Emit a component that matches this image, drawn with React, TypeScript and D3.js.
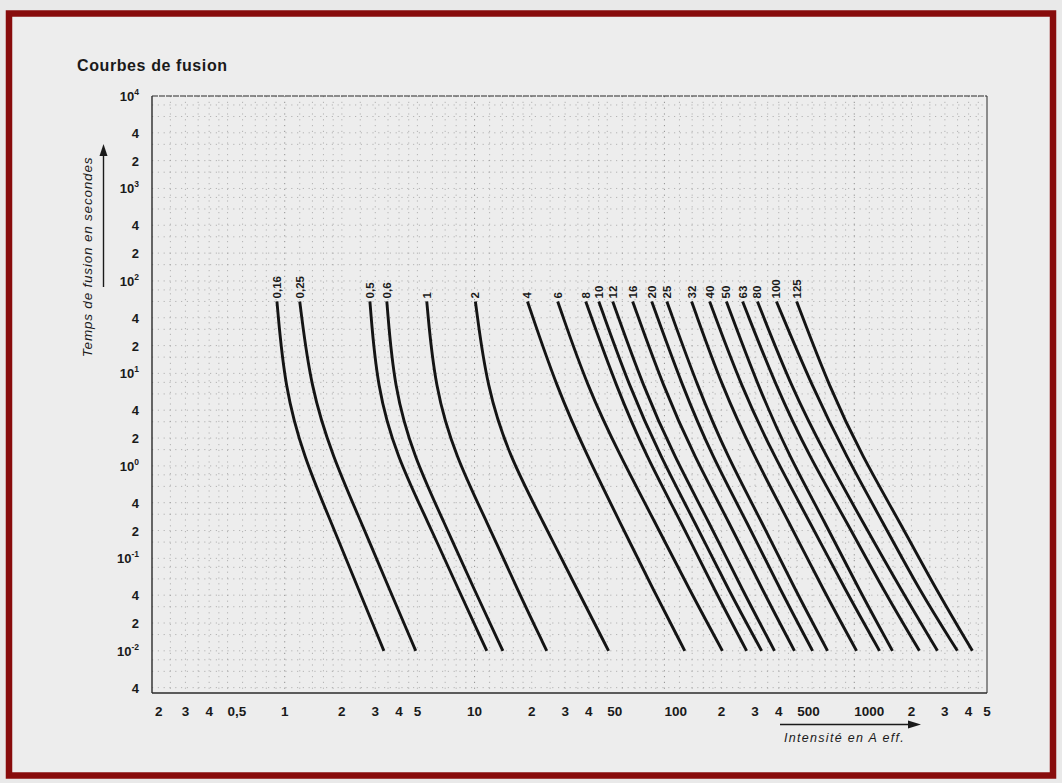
import React, { useEffect, useRef } from 'react';
import * as d3 from 'd3';

const width = 1062;
const height = 783;
const plot = { left: 152, right: 987, top: 96, bottom: 693 };

// fuse ratings, printed above each curve
const ratings = ['0,16', '0,25', '0,5', '0,6', '1', '2', '4', '6', '8', '10', '12', '16', '20', '25', '32', '40', '50', '63', '80', '100', '125'];

const times = [60, 7, 1.25, 0.25, 0.045, 0.01];

// melting current (A eff.) of each fuse at the times above
const i0_16 = [0.91, 1.0, 1.26, 1.75, 2.46, 3.33];
const i0_25 = [1.2, 1.37, 1.79, 2.52, 3.58, 4.9];
const i0_5 = [2.81, 3.06, 3.9, 5.67, 8.26, 11.6];
const i0_6 = [3.45, 3.76, 4.79, 6.88, 10.0, 14.1];
const i1 = [5.6, 6.17, 7.96, 11.6, 16.9, 24.0];
const i2 = [10.1, 11.6, 15.3, 22.9, 34.9, 50.8];
const i4 = [19.0, 27.1, 39.4, 58.1, 87.7, 128];
const i6 = [27.4, 39.4, 58.8, 88.8, 136, 202];
const i8 = [38.5, 56.0, 80.5, 122, 184, 271];
const i10 = [45.1, 65.6, 95.5, 144, 218, 325];
const i12 = [53.4, 77.6, 113, 171, 258, 380];
const i16 = [68.0, 99.0, 144, 218, 329, 484];
const i20 = [85.7, 125, 179, 271, 409, 603];
const i25 = [103, 150, 215, 325, 490, 723];
const i32 = [139, 202, 298, 451, 689, 1028];
const i40 = [173, 255, 380, 581, 899, 1358];
const i50 = [212, 313, 456, 697, 1064, 1589];
const i63 = [258, 389, 581, 910, 1426, 2203];
const i80 = [309, 467, 714, 1104, 1771, 2742];
const i100 = [389, 603, 910, 1406, 2203, 3491];
const i125 = [497, 740, 1104, 1730, 2710, 4188];

const currents = [i0_16, i0_25, i0_5, i0_6, i1, i2, i4, i6, i8, i10, i12, i16, i20, i25, i32, i40, i50, i63, i80, i100, i125];

const xTicks = [0.2, 0.3, 0.4, 0.5, 1, 2, 3, 4, 5, 10, 20, 30, 40, 50, 100, 200, 300, 400, 500, 1000, 2000, 3000, 4000, 5000];
const xTickLabels = ['2', '3', '4', '0,5', '1', '2', '3', '4', '5', '10', '2', '3', '4', '50', '100', '2', '3', '4', '500', '1000', '2', '3', '4', '5'];

const yTicks = [1e4, 4000, 2000, 1e3, 400, 200, 100, 40, 20, 10, 4, 2, 1, 0.4, 0.2, 0.1, 0.04, 0.02, 0.01, 0.004];
const yTickLabels = ['10^4', '4', '2', '10^3', '4', '2', '10^2', '4', '2', '10^1', '4', '2', '10^0', '4', '2', '10^-1', '4', '2', '10^-2', '4'];

// subdivisions of one decade on the log paper
const xGridSteps = [1, 1.2, 1.4, 1.6, 1.8, 2, 2.5, 3, 3.5, 4, 4.5, 5, 6, 7, 8, 9];
const yGridSteps = [1, 1.5, 2, 3, 4, 6, 8];

const font = '"Liberation Sans", Arial, Helvetica, sans-serif';

const App = () => {
    const ref = useRef<SVGSVGElement>(null);

    useEffect(() => {
        const svg = d3.select(ref.current);
        svg.selectAll('*').remove();

        const x = d3.scaleLog().domain([0.2, 5000]).range([plot.left, plot.right]);
        const y = d3.scaleLog().domain([0.0035, 1e4]).range([plot.bottom, plot.top]);

        svg.append('rect').attr('width', width).attr('height', height).attr('fill', '#e9e9e9');
        svg.append('rect')
            .attr('x', 9).attr('y', 13.5)
            .attr('width', 1044).attr('height', 762)
            .attr('fill', '#ededed')
            .attr('stroke', '#880c0c')
            .attr('stroke-width', 6.5);

        svg.append('text')
            .attr('x', 77).attr('y', 71)
            .attr('font-family', font).attr('font-weight', 'bold')
            .attr('font-size', 16).attr('letter-spacing', 0.6)
            .attr('fill', '#1a1a1a')
            .text('Courbes de fusion');

        // log paper grid
        const xGrid: number[] = [];
        for (let d = -1; d <= 3; d++) {
            xGridSteps.forEach(s => {
                const v = s * Math.pow(10, d);
                if (v > 0.2 && v < 5000) xGrid.push(v);
            });
        }
        const yGrid: number[] = [];
        for (let d = -3; d <= 3; d++) {
            yGridSteps.forEach(s => {
                const v = s * Math.pow(10, d);
                if (v > 0.0035 && v < 1e4) yGrid.push(v);
            });
        }
        const grid = svg.append('g')
            .attr('stroke', '#6e6e6e')
            .attr('stroke-width', 0.9)
            .attr('stroke-dasharray', '1.2 4.6');
        grid.selectAll('line.vx')
            .data(xGrid)
            .enter()
            .append('line')
            .attr('class', 'vx')
            .attr('x1', d => x(d)).attr('x2', d => x(d))
            .attr('y1', plot.top).attr('y2', plot.bottom)
            .attr('stroke-opacity', d => Number.isInteger(Math.log10(d)) ? 0.8 : 0.5);
        grid.selectAll('line.hy')
            .data(yGrid)
            .enter()
            .append('line')
            .attr('class', 'hy')
            .attr('x1', plot.left).attr('x2', plot.right)
            .attr('y1', d => y(d)).attr('y2', d => y(d))
            .attr('stroke-opacity', 0.5);

        // frame of the plot
        const frame = svg.append('g').attr('stroke', '#2a2a2a').attr('fill', 'none');
        frame.append('line').attr('x1', plot.left).attr('x2', plot.left).attr('y1', plot.top).attr('y2', plot.bottom).attr('stroke-width', 1.4);
        frame.append('line').attr('x1', plot.left).attr('x2', plot.right).attr('y1', plot.bottom).attr('y2', plot.bottom).attr('stroke-width', 1.4);
        frame.append('line').attr('x1', plot.right).attr('x2', plot.right).attr('y1', plot.top).attr('y2', plot.bottom).attr('stroke-width', 1);
        frame.append('line').attr('x1', plot.left).attr('x2', plot.right).attr('y1', plot.top).attr('y2', plot.top)
            .attr('stroke-width', 1.2).attr('stroke-dasharray', '6 1');

        // y tick labels
        const yLab = svg.append('g')
            .attr('font-family', font).attr('font-weight', 'bold')
            .attr('font-size', 13).attr('fill', '#1a1a1a')
            .attr('text-anchor', 'end');
        yTicks.forEach((v, i) => {
            const lab = yTickLabels[i];
            const t = yLab.append('text').attr('x', 139).attr('y', y(v) + 5);
            if (lab.startsWith('10^')) {
                t.append('tspan').text('10');
                t.append('tspan').attr('dy', -6).attr('font-size', 8.5).text(lab.slice(3));
            } else {
                t.text(lab);
            }
        });

        // x tick labels
        const xLab = svg.append('g')
            .attr('font-family', font).attr('font-weight', 'bold')
            .attr('font-size', 13.5).attr('fill', '#1a1a1a');
        xTicks.forEach((v, i) => {
            const lab = xTickLabels[i];
            const start = i === 0 || (lab.length > 1 && lab !== '10');
            xLab.append('text')
                .attr('x', x(v) + (i === 0 ? 3 : 0))
                .attr('y', 716)
                .attr('text-anchor', start ? 'start' : 'middle')
                .text(lab);
        });

        // axis titles with arrows
        svg.append('text')
            .attr('transform', `translate(92,257) rotate(-90)`)
            .attr('text-anchor', 'middle')
            .attr('font-family', font).attr('font-style', 'italic')
            .attr('font-size', 13.5).attr('letter-spacing', 0.8)
            .attr('fill', '#1a1a1a')
            .text('Temps de fusion en secondes');
        svg.append('line')
            .attr('x1', 103.5).attr('x2', 103.5).attr('y1', 287).attr('y2', 152)
            .attr('stroke', '#1a1a1a').attr('stroke-width', 1.4);
        svg.append('path')
            .attr('d', 'M103.5,144 L99.5,156 L107.5,156 Z')
            .attr('fill', '#1a1a1a');

        svg.append('text')
            .attr('x', 784).attr('y', 742)
            .attr('font-family', font).attr('font-style', 'italic')
            .attr('font-size', 12.5).attr('letter-spacing', 1.3)
            .attr('fill', '#1a1a1a')
            .text('Intensité en A eff.');
        svg.append('line')
            .attr('x1', 780).attr('x2', 910).attr('y1', 724.5).attr('y2', 724.5)
            .attr('stroke', '#1a1a1a').attr('stroke-width', 1.4);
        svg.append('path')
            .attr('d', 'M921,724.5 L908,720.5 L908,728.5 Z')
            .attr('fill', '#1a1a1a');

        // melting curves
        const line = d3.line<number>()
            .x(d => x(d))
            .y((d, i) => y(times[i]))
            .curve(d3.curveBasis);

        svg.append('g')
            .selectAll('path.curve')
            .data(currents)
            .enter()
            .append('path')
            .attr('class', 'curve')
            .attr('d', d => line(d))
            .attr('fill', 'none')
            .attr('stroke', '#141414')
            .attr('stroke-width', 2.9);

        svg.append('g')
            .attr('font-family', font).attr('font-weight', 'bold')
            .attr('font-size', 11.5).attr('fill', '#1a1a1a')
            .selectAll('text')
            .data(currents)
            .enter()
            .append('text')
            .attr('transform', d => `translate(${x(d[0]) + 4},${y(times[0]) - 3}) rotate(-90)`)
            .text((d, i) => ratings[i]);
    }, []);

    return (
        <div style={{ position: 'absolute', left: 0, top: 0 }}>
            <svg ref={ref} width={width} height={height} style={{ display: 'block' }}></svg>
        </div>
    );
};

export default App;
